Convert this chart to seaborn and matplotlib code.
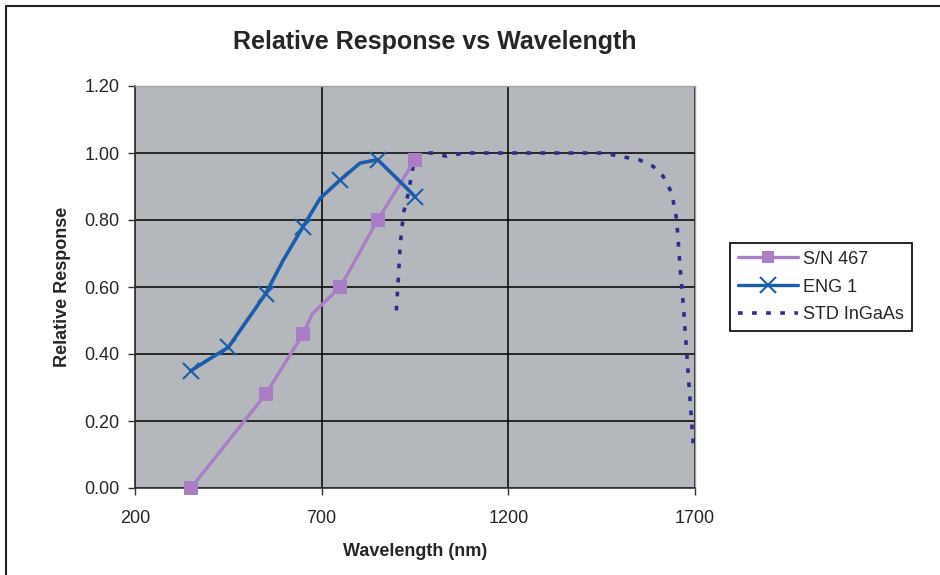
import matplotlib
matplotlib.use('Agg')
import matplotlib.pyplot as plt
import matplotlib.lines as mlines
import seaborn as sns
import pandas as pd

# S/N 467 (square markers at every 100 nm; one unmarked kink point)
sn_wl   = [350, 550, 650, 675, 750, 850, 950]
sn_resp = [0.00, 0.28, 0.46, 0.52, 0.60, 0.80, 0.98]
sn_mark = [0, 1, 2, 4, 5, 6]

# ENG 1 (x markers at every 100 nm, read points of the smooth curve in between)
eng_wl   = [350, 392, 450, 500, 550, 597, 650, 696, 750, 803, 850, 896, 950]
eng_resp = [0.35, 0.38, 0.42, 0.50, 0.58, 0.68, 0.78, 0.865, 0.92, 0.97, 0.98, 0.93, 0.87]
eng_mark = [0, 2, 4, 6, 8, 10, 12]

# STD InGaAs (dotted reference curve)
std_wl   = [900, 905, 910, 919, 932, 945, 963, 1000, 1035, 1080, 1133, 1200, 1300,
            1400, 1455, 1499, 1550, 1588, 1615, 1638, 1651, 1660, 1669, 1678, 1687, 1696]
std_resp = [0.53, 0.62, 0.72, 0.82, 0.88, 0.96, 1.00, 1.00, 0.99, 1.00, 1.00, 1.00, 1.00,
            1.00, 1.00, 0.99, 0.98, 0.96, 0.93, 0.88, 0.80, 0.66, 0.54, 0.40, 0.26, 0.12]

x_ticks = [200, 700, 1200, 1700]
y_ticks = [0.0, 0.2, 0.4, 0.6, 0.8, 1.0, 1.2]

sns.set_style('white')
plt.rcParams['font.family'] = ['Liberation Sans', 'DejaVu Sans']

fig = plt.figure(figsize=(9.4, 5.75), dpi=100)
ax = fig.add_axes([135 / 940, 87 / 575, 560 / 940, 402 / 575])
ax.set_facecolor('#b4b8bc')

sn_df  = pd.DataFrame({'wl': sn_wl, 'resp': sn_resp})
eng_df = pd.DataFrame({'wl': eng_wl, 'resp': eng_resp})
std_df = pd.DataFrame({'wl': std_wl, 'resp': std_resp})

purple = '#a97ec6'
blue   = '#1b5dab'
navy   = '#2b2f8c'

sns.lineplot(data=sn_df, x='wl', y='resp', ax=ax, sort=False, color=purple, lw=2.4,
             marker='s', markersize=10, markeredgewidth=0, markevery=sn_mark,
             clip_on=False, zorder=4)
sns.lineplot(data=eng_df, x='wl', y='resp', ax=ax, sort=False, color=blue, lw=2.6,
             marker='x', markersize=12, markeredgewidth=1.5, markeredgecolor=blue,
             markevery=eng_mark, zorder=5)
sns.lineplot(data=std_df, x='wl', y='resp', ax=ax, sort=False, color=navy, lw=2.6,
             linestyle=(0, (1.3, 2.6)), zorder=3)

ax.set_xlim(200, 1700)
ax.set_ylim(0, 1.2)
ax.set_xticks(x_ticks)
ax.set_yticks(y_ticks)
ax.set_yticklabels([f'{v:.2f}' for v in y_ticks])
ax.tick_params(axis='both', labelsize=13, length=5, width=1, color='#333333',
               direction='out', bottom=True, left=True)
ax.tick_params(axis='x', pad=11)
ax.tick_params(axis='y', pad=6)
ax.grid(True, color='black', lw=1.1)
ax.set_axisbelow(True)
for side in ['left', 'bottom']:
    ax.spines[side].set_color('#333333')
    ax.spines[side].set_linewidth(1.2)
for side in ['top', 'right']:
    ax.spines[side].set_color('#a0a4a8')
    ax.spines[side].set_linewidth(1)

ax.set_xlabel('Wavelength (nm)', fontsize=13, fontweight='bold', labelpad=11)
ax.set_ylabel('Relative Response', fontsize=13, fontweight='bold', labelpad=10)
fig.text(435 / 940, 1 - 42 / 575, 'Relative Response vs Wavelength',
         ha='center', va='center', fontsize=18, fontweight='bold')

handles = [
    mlines.Line2D([], [], color=purple, lw=2.4, marker='s', markersize=9, markeredgewidth=0),
    mlines.Line2D([], [], color=blue, lw=2.4, marker='x', markersize=11, markeredgewidth=1.5),
    mlines.Line2D([], [], color=navy, lw=2.6, linestyle=(0, (1.3, 2.6))),
]
leg = ax.legend(handles, ['S/N 467', 'ENG 1', 'STD InGaAs'], loc='center left',
                bbox_to_anchor=(1.063, 0.5), fontsize=13, frameon=True, fancybox=False,
                edgecolor='black', framealpha=1, handlelength=3.3, handletextpad=0.3,
                borderpad=0.45, labelspacing=0.6, borderaxespad=0)
leg.get_frame().set_linewidth(1.2)

# outer chart frame (top and left edges only visible)
fig.add_artist(mlines.Line2D([6 / 940, 1], [1 - 6 / 575, 1 - 6 / 575],
                             transform=fig.transFigure, color='#222222', lw=1.5))
fig.add_artist(mlines.Line2D([6 / 940, 6 / 940], [0, 1 - 6 / 575],
                             transform=fig.transFigure, color='#222222', lw=1.5))

fig.savefig('out.png', dpi=100)
